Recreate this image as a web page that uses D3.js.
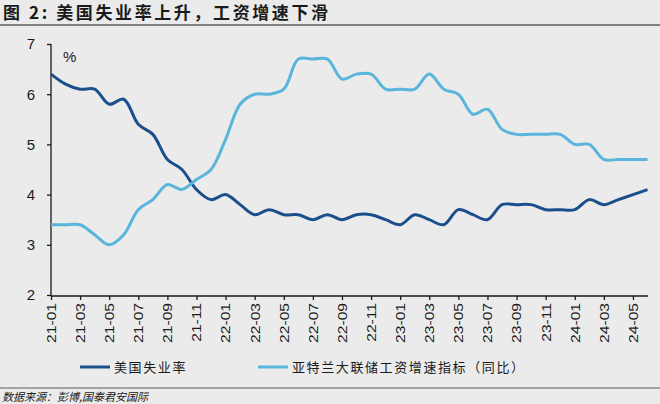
<!DOCTYPE html>
<html><head><meta charset="utf-8">
<script src="https://cdn.jsdelivr.net/npm/d3@7"></script>
<style>
html,body{margin:0;padding:0;background:#ebebeb;}
svg{display:block;}
</style></head>
<body>
<svg id="c" width="660" height="404"></svg>
<script>
const months = ["21-01","21-02","21-03","21-04","21-05","21-06","21-07","21-08","21-09","21-10","21-11","21-12",
"22-01","22-02","22-03","22-04","22-05","22-06","22-07","22-08","22-09","22-10","22-11","22-12",
"23-01","23-02","23-03","23-04","23-05","23-06","23-07","23-08","23-09","23-10","23-11","23-12",
"24-01","24-02","24-03","24-04","24-05","24-06"];
const unemployment = [6.4,6.2,6.1,6.1,5.8,5.9,5.4,5.2,4.7,4.5,4.1,3.9,
4.0,3.8,3.6,3.7,3.6,3.6,3.5,3.6,3.5,3.6,3.6,3.5,
3.4,3.6,3.5,3.4,3.7,3.6,3.5,3.8,3.8,3.8,3.7,3.7,
3.7,3.9,3.8,3.9,4.0,4.1];
const wageGrowth = [3.4,3.4,3.4,3.2,3.0,3.2,3.7,3.9,4.2,4.1,4.3,4.5,
5.1,5.8,6.0,6.0,6.1,6.7,6.7,6.7,6.3,6.4,6.4,6.1,
6.1,6.1,6.4,6.1,6.0,5.6,5.7,5.3,5.2,5.2,5.2,5.2,
5.0,5.0,4.7,4.7,4.7,4.7];
const yTicks = [2,3,4,5,6,7];
const xTickLabels = months.filter((m,i)=>i%2===0);
const seriesNames = ["美国失业率","亚特兰大联储工资增速指标（同比）"];
const colors = ["#1b4f8c","#5ab5dc"];
const titleText = "图 2:  美国失业率上升，工资增速下滑";
const sourceText = "数据来源：彭博,国泰君安国际";

const svg = d3.select("#c");
const cn = "'Noto Sans CJK SC','Noto Sans',sans-serif";
const latin = "'Liberation Sans',Arial,sans-serif";

// title
svg.append("text").attr("x",3).attr("y",19).text(titleText)
  .attr("font-family",cn).attr("font-weight","bold").attr("font-size",17)
  .attr("letter-spacing",2.6).attr("fill","#1a1a1a");
svg.append("line").attr("x1",0).attr("x2",660).attr("y1",25).attr("y2",25)
  .attr("stroke","#808080").attr("stroke-width",2);

const x = d3.scalePoint().domain(months).range([51,647.5]);
const y = d3.scaleLinear().domain([2,7]).range([295,44]);

// y axis
const ya = svg.append("g").attr("transform","translate(51,0)")
  .call(d3.axisLeft(y).tickValues(yTicks).tickSize(4).tickPadding(12).tickFormat(d3.format("d")));
ya.select(".domain").attr("stroke","#1a1a1a").attr("stroke-width",1.3).attr("d","M0,44V296");
ya.selectAll(".tick line").attr("stroke","#1a1a1a").attr("stroke-width",1.3);
ya.selectAll("text").attr("font-family",latin).attr("font-size",15).attr("fill","#1a1a1a");

// x axis
const xa = svg.append("g").attr("transform","translate(0,296)")
  .call(d3.axisBottom(x).tickValues(xTickLabels).tickSize(4).tickPadding(6));
xa.select(".domain").attr("stroke","#1a1a1a").attr("stroke-width",1.3).attr("d","M51,0H648");
xa.selectAll(".tick line").attr("stroke","#1a1a1a").attr("stroke-width",1.3);
xa.selectAll("text").attr("font-family",latin).attr("font-size",12.5).attr("fill","#1a1a1a")
  .attr("text-anchor","end").attr("dy","0.35em")
  .attr("transform","translate(0,7) rotate(-90) scale(1.25,1)").attr("x",0).attr("y",0);

// % label
svg.append("text").attr("x",63).attr("y",62).text("%")
  .attr("font-family",latin).attr("font-size",15).attr("fill","#1a1a1a");

const line = d3.line().x((d,i)=>x(months[i])).y(d=>y(d)).curve(d3.curveCatmullRom.alpha(0.5));
[unemployment, wageGrowth].forEach((s,k)=>{
  svg.append("path").datum(s).attr("d",line).attr("fill","none")
    .attr("stroke",colors[k]).attr("stroke-width",3).attr("stroke-linejoin","round");
});

// legend
const lg = [{x1:80,x2:110,tx:114},{x1:258,x2:288,tx:292}];
lg.forEach((p,k)=>{
  svg.append("line").attr("x1",p.x1).attr("x2",p.x2).attr("y1",367).attr("y2",367)
    .attr("stroke",colors[k]).attr("stroke-width",3);
  svg.append("text").attr("x",p.tx).attr("y",372).text(seriesNames[k])
    .attr("font-family",cn).attr("font-size",13).attr("letter-spacing",1.6).attr("fill","#1a1a1a");
});

svg.append("line").attr("x1",0).attr("x2",660).attr("y1",388).attr("y2",388)
  .attr("stroke","#8a8a8a").attr("stroke-width",1.5);
svg.append("text").attr("x",2).attr("y",401).text(sourceText)
  .attr("font-family",cn).attr("font-size",11).attr("font-style","italic").attr("fill","#1a1a1a");
</script>
</body></html>
